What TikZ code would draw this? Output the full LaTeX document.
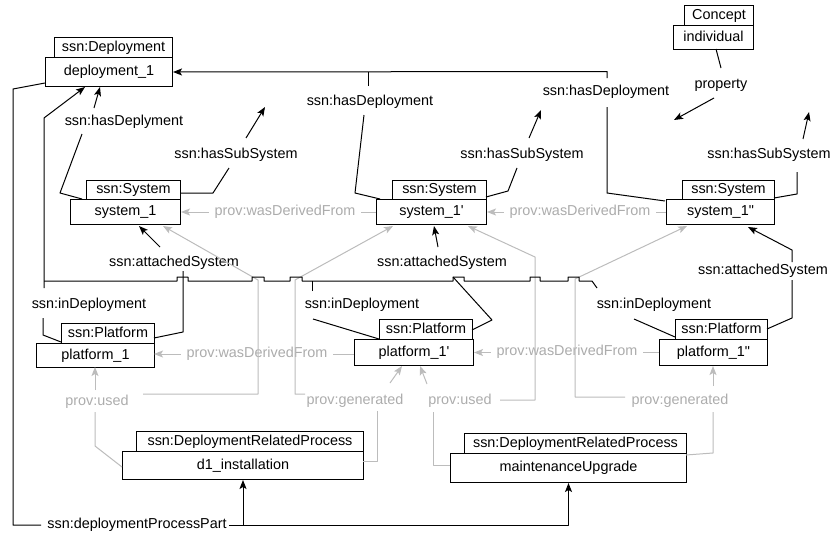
\documentclass[tikz,border=0pt]{standalone}
\usepackage{fontspec}
\newfontfamily\lsans{Liberation Sans}
\usetikzlibrary{arrows.meta}
\definecolor{pg}{RGB}{188,188,188}
\definecolor{pgt}{RGB}{172,172,172}
\begin{document}
\begin{tikzpicture}[x=1pt,y=-1pt,
  font=\lsans\fontsize{14.4}{17}\selectfont,
  bx/.style={draw, line width=1pt, fill=white, inner sep=0pt, anchor=north west, text height=10.5pt, text depth=3pt},
  lbl/.style={inner sep=1pt, text height=10.5pt, text depth=3pt},
  glbl/.style={lbl, text=pgt},
  dlbl/.style={glbl, fill=white, inner xsep=6pt},
  e/.style={line width=1pt, line join=round},
  ea/.style={e, -{Stealth[length=9pt,width=7pt,inset=2pt]}},
  g/.style={e, draw=pg},
  ga/.style={g, -{Stealth[length=9pt,width=7pt,inset=2pt]}}
]
\useasboundingbox (0,0) rectangle (832,538);

% ---------- boxes ----------
\node[bx, minimum width=69pt,  minimum height=20pt] (conT)   at (684,5)   {Concept};
\node[bx, minimum width=80pt,  minimum height=24pt] (conB)   at (673,25)  {individual};
\node[bx, minimum width=118pt, minimum height=20pt] (depT)   at (54,37)   {ssn:Deployment};
\node[bx, minimum width=127pt, minimum height=29pt] (depB)   at (45,57)   {deployment\_1};
\node[bx, minimum width=94pt,  minimum height=19pt] (sys1T)  at (86,180)  {ssn:System};
\node[bx, minimum width=110pt, minimum height=25pt] (sys1B)  at (70,199)  {system\_1};
\node[bx, minimum width=94pt,  minimum height=19pt] (sys2T)  at (392,180) {ssn:System};
\node[bx, minimum width=110pt, minimum height=25pt] (sys2B)  at (376,199) {system\_1'};
\node[bx, minimum width=92pt,  minimum height=19pt] (sys3T)  at (682,180) {ssn:System};
\node[bx, minimum width=108pt, minimum height=25pt] (sys3B)  at (666,199) {system\_1"};
\node[bx, minimum width=93pt,  minimum height=20pt] (plat1T) at (61,323)  {ssn:Platform};
\node[bx, minimum width=118pt, minimum height=24pt] (plat1B) at (36,343)  {platform\_1};
\node[bx, minimum width=93pt,  minimum height=20pt] (plat2T) at (379,319) {ssn:Platform};
\node[bx, minimum width=119pt, minimum height=26pt] (plat2B) at (354,339) {platform\_1'};
\node[bx, minimum width=92pt,  minimum height=20pt] (plat3T) at (675,319) {ssn:Platform};
\node[bx, minimum width=108pt, minimum height=26pt] (plat3B) at (659,339) {platform\_1"};
\node[bx, minimum width=227pt, minimum height=20pt] (d1T)    at (136,431) {ssn:DeploymentRelatedProcess};
\node[bx, minimum width=241pt, minimum height=28pt] (d1B)    at (122,451) {d1\_installation};
\node[bx, minimum width=222pt, minimum height=20pt] (muT)    at (464,433) {ssn:DeploymentRelatedProcess};
\node[bx, minimum width=236pt, minimum height=29pt] (muB)    at (450,453) {maintenanceUpgrade};

% ---------- free ends ----------
\coordinate (propEnd) at (674,120);
\coordinate (sub1End) at (265,107);
\coordinate (sub2End) at (541,110);
\coordinate (sub3End) at (809,112);

% ---------- black labels ----------
\node[lbl] (lProp) at (721,85)  {property};
\node[lbl] (lHd1)  at (124,122) {ssn:hasDeplyment};
\node[lbl] (lHd2)  at (370,102) {ssn:hasDeployment};
\node[lbl] (lHd3)  at (606,92)  {ssn:hasDeployment};
\node[lbl] (lSub1) at (236,155) {ssn:hasSubSystem};
\node[lbl] (lSub2) at (522,155) {ssn:hasSubSystem};
\node[lbl] (lSub3) at (769,155) {ssn:hasSubSystem};
\node[lbl] (lAtt1) at (174,263) {ssn:attachedSystem};
\node[lbl] (lAtt2) at (442,263) {ssn:attachedSystem};
\node[lbl] (lAtt3) at (763,271) {ssn:attachedSystem};
\node[lbl] (lInD1) at (89,305)  {ssn:inDeployment};
\node[lbl] (lInD2) at (362,305) {ssn:inDeployment};
\node[lbl] (lInD3) at (654,305) {ssn:inDeployment};
\node[lbl] (lDpp)  at (137,525) {ssn:deploymentProcessPart};

% ---------- black connectors ----------
\draw[e] (716,49) -- (721,68);
\draw[ea] (714,98) -- (propEnd);

\draw[e] (82,199) -- (60,193) -- (82,134);
\draw[ea] (94,108) -- (100,87);

\draw[e] (180,193) -- (213,193) -- (229,168);
\draw[ea] (246,138) -- (sub1End);
\draw[e] (486,197) -- (508,191) -- (517,168);
\draw[ea] (529,138) -- (sub2End);
\draw[e] (774,198) -- (797,194) -- (797,172);
\draw[ea] (803,139) -- (sub3End);

\draw[e] (380,199) -- (355,193) -- (364,115);
\draw[e] (368,86) -- (368,71.5);
\draw[ea] (607,78) -- (607,71.5) -- (depB.east);
\draw[e] (665,201) -- (607,193) -- (607,107);

\draw[e] (154,338) -- (183,332) -- (183,271);
\draw[ea] (160,247) -- (139,226);
\draw[e] (472,330) -- (492,320) -- (453,277);
\draw[ea] (438,247) -- (434,226);
\draw[e] (767,329) -- (792,318) -- (792,280);
\draw[ea] (792,262) -- (792,250) -- (748,227);

\draw[e] (61,342) -- (43,335) -- (43,318);
\draw[ea] (44,288) -- (44,118) -- (85,87);
\draw[e] (379,339) -- (313,319);
\draw[e] (312,291) -- (312,281);
\draw[e] (675,337) -- (634,319);

\draw[e] (45,83) -- (13,89) -- (13,525) -- (41,525);
\draw[ea] (229,525) -- (muB.south |- 0,525) -- (muB.south);
\draw[ea] (d1B.south |- 0,525) -- (d1B.south);

% ---------- grey connectors ----------
\draw[ga] (sys2B.west) -- (sys1B.east);
\node[dlbl] at (285,211.5) {prov:wasDerivedFrom};
\draw[ga] (sys3B.west) -- (sys2B.east);
\node[dlbl] at (580,211.5) {prov:wasDerivedFrom};
\draw[ga] (354,354) -- (154,354);
\node[dlbl] at (257,354) {prov:wasDerivedFrom};
\draw[ga] (plat3B.west) -- (plat2B.east);
\node[dlbl] at (567,352) {prov:wasDerivedFrom};

\node[glbl] at (97,402) {prov:used};
\draw[g] (122,467) -- (95,446) -- (95,412);
\draw[ga] (95,390) -- (95,367);
\draw[ga] (143,394) -- (258,394) -- (258,280) -- (163,226);

\node[glbl] at (355,401) {prov:generated};
\draw[g] (363,461) -- (377,461) -- (377,411);
\draw[ga] (390,383) -- (402,366);
\draw[ga] (305,394) -- (295,394) -- (295,280) -- (393,226);

\node[glbl] at (460,401) {prov:used};
\draw[g] (450,465) -- (433,465) -- (433,412);
\draw[ga] (427,384) -- (420,366);
\draw[ga] (500,400) -- (535,400) -- (535,257) -- (468,226);

\node[glbl] at (680,401) {prov:generated};
\draw[g] (686,455) -- (713,453) -- (713,412);
\draw[ga] (713,386) -- (713,366);
\draw[ga] (625,397) -- (575,397) -- (575,279) -- (687,226);

% ---------- shared inDeployment line with jumps ----------
\draw[e] (597,288) -- (592,281) -- (579,281) -- ++(0,-4) -- ++(-11,0) -- ++(0,4)
  -- (540,281) -- ++(0,-4) -- ++(-10,0) -- ++(0,4)
  -- (464,281) -- ++(0,-4) -- ++(-11,0) -- ++(0,4)
  -- (302,281) -- ++(0,-4) -- ++(-12,0) -- ++(0,4)
  -- (264,281) -- ++(0,-4) -- ++(-12,0) -- ++(0,4)
  -- (188,281) -- ++(0,-4) -- ++(-11,0) -- ++(0,4)
  -- (44,281);
\end{tikzpicture}
\end{document}
